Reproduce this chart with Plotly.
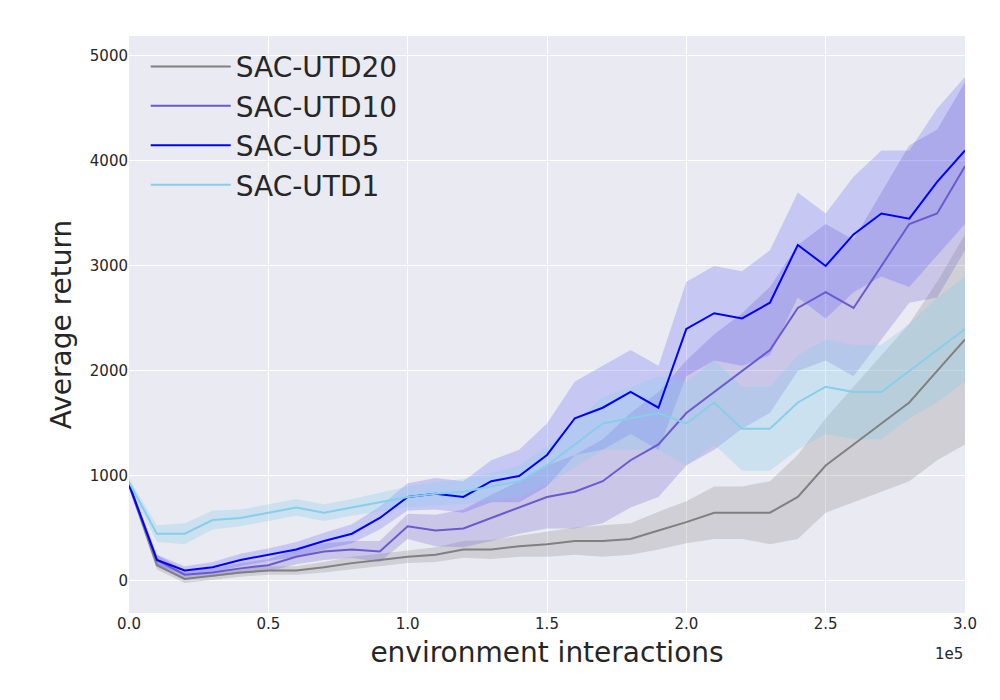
import plotly.graph_objects as go

x = [i*10000 for i in range(31)]
utd20 = [920,150,20,50,80,100,100,130,170,200,230,250,300,300,330,350,380,380,400,480,560,650,650,650,800,1100,1300,1500,1700,2000,2300]
utd20_sd = [40,40,40,40,40,40,40,50,60,60,60,70,80,90,100,120,130,150,150,180,200,250,250,300,400,450,550,650,750,850,1000]
utd10 = [920,200,60,80,120,150,230,280,300,280,520,480,500,600,700,800,850,950,1150,1300,1600,1800,2000,2200,2600,2750,2600,3000,3400,3500,3950]
utd10_sd = [40,50,40,40,50,60,70,80,80,100,120,150,180,220,250,300,350,400,450,500,500,550,550,600,600,650,650,700,750,800,800]
utd5 = [920,200,100,130,200,250,300,380,450,600,800,830,800,950,1000,1200,1550,1650,1800,1650,2400,2550,2500,2650,3200,3000,3300,3500,3450,3800,4100]
utd5_sd = [40,50,40,50,60,60,70,80,90,110,130,150,150,200,250,300,350,400,400,400,450,450,450,500,500,500,550,600,650,700,700]
utd1 = [940,450,450,580,600,650,700,650,700,750,800,830,850,900,950,1100,1300,1500,1550,1600,1500,1700,1450,1450,1700,1850,1800,1800,2000,2200,2400]
utd1_sd = [40,80,100,90,80,80,80,80,80,90,100,110,120,130,150,180,220,250,300,350,400,400,400,400,450,450,450,450,450,500,500]

series = [
    ("SAC-UTD20", utd20, utd20_sd, "#808080", "rgba(128,128,128,0.25)"),
    ("SAC-UTD10", utd10, utd10_sd, "#6A5ACD", "rgba(106,90,205,0.25)"),
    ("SAC-UTD5", utd5, utd5_sd, "#0000FF", "rgba(60,60,255,0.2)"),
    ("SAC-UTD1", utd1, utd1_sd, "#87CEEB", "rgba(135,206,235,0.3)"),
]

fig = go.Figure()
for name, m, s, c, f in series:
    up = [a+b for a, b in zip(m, s)]
    lo = [a-b for a, b in zip(m, s)]
    fig.add_trace(go.Scatter(x=x+x[::-1], y=up+lo[::-1], fill="toself", fillcolor=f,
                             line=dict(width=0), hoverinfo="skip", showlegend=False))
for name, m, s, c, f in series:
    fig.add_trace(go.Scatter(x=x, y=m, mode="lines", name=name, line=dict(color=c, width=2)))

fig.update_layout(
    width=1000, height=700, plot_bgcolor="#EAEAF2", paper_bgcolor="white",
    margin=dict(l=121, r=43, t=28, b=95, autoexpand=False),
    font=dict(family="DejaVu Sans", color="#262626"),
    legend=dict(x=0.02, y=0.99, bgcolor="rgba(0,0,0,0)", font=dict(size=28), itemwidth=80),
    xaxis=dict(range=[0, 300000], tickvals=[i*50000 for i in range(7)],
               ticktext=["0.0","0.5","1.0","1.5","2.0","2.5","3.0"], automargin=False,
               gridcolor="white", zeroline=False, showline=False, tickfont=dict(size=15),
               title=dict(text="environment interactions", font=dict(size=28), standoff=10)),
    yaxis=dict(range=[-305, 5190], tickvals=[0,1000,2000,3000,4000,5000], automargin=False,
               gridcolor="white", zeroline=False, showline=False, tickfont=dict(size=15),
               title=dict(text="Average return", font=dict(size=28), standoff=10)),
)
fig.add_annotation(text="1e5", xref="paper", yref="paper", x=1.0, y=-0.09, showarrow=False,
                   xanchor="right", font=dict(size=15))
fig.write_html("out.html")
